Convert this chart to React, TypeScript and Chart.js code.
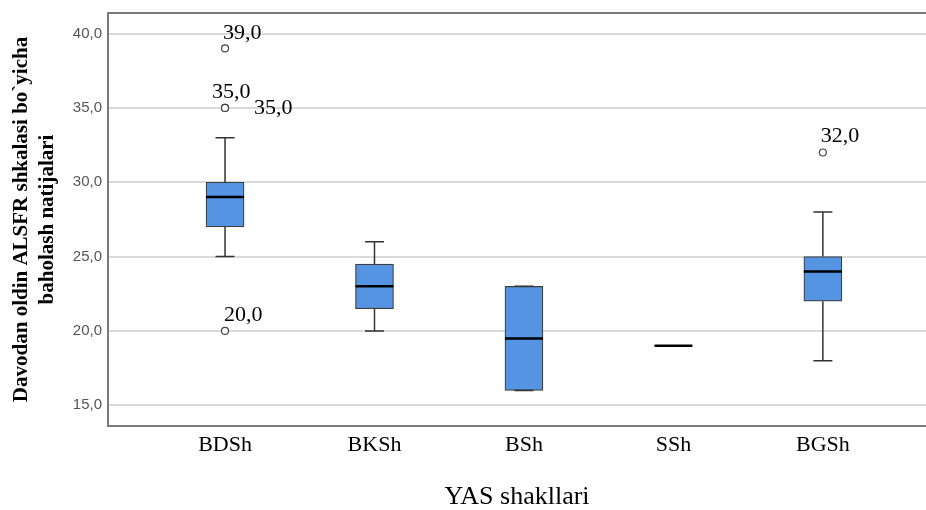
import React, { useEffect, useRef } from "react";
import { Chart, registerables } from "chart.js";

Chart.register(...registerables);

// ---- data ----
const categories = ["BDSh", "BKSh", "BSh", "SSh", "BGSh"];
const whiskerLow = [25, 20, 16, 19, 18];
const q1 = [27, 21.5, 16, 19, 22];
const median = [29, 23, 19.5, 19, 24];
const q3 = [30, 24.5, 23, 19, 25];
const whiskerHigh = [33, 26, 23, 19, 28];
const outlierCategory = [0, 0, 0, 0, 4];
const outlierValue = [39, 35, 35, 20, 32];
const yTickValues = [15, 20, 25, 30, 35, 40];
const yTitle = ["Davodan oldin ALSFR shkalasi bo`yicha", "baholash natijalari"];
const xTitle = "YAS shakllari";

// label placement (style, not data)
const outlierLabelOffsets = [
  [-2, -15],
  [-13, -16],
  [29, 0],
  [-1, -16],
  [-2, -16],
];

const fmt = (v: number) => Number(v).toFixed(1).replace(".", ",");

const BOX_W = 38;
const CAP_HALF = 9.5;

const boxPlugin = {
  id: "boxDetails",
  afterDatasetsDraw(chart: any) {
    const { ctx, chartArea } = chart;
    const x = chart.scales.x;
    const y = chart.scales.y;
    ctx.save();
    // top border
    ctx.strokeStyle = "#7a7a7a";
    ctx.lineWidth = 2;
    ctx.beginPath();
    ctx.moveTo(chartArea.left - 1, chartArea.top);
    ctx.lineTo(chartArea.right, chartArea.top);
    ctx.stroke();

    categories.forEach((_, i) => {
      const cx = x.getPixelForValue(i);
      const yl = y.getPixelForValue(whiskerLow[i]);
      const y1 = y.getPixelForValue(q1[i]);
      const ym = y.getPixelForValue(median[i]);
      const y3 = y.getPixelForValue(q3[i]);
      const yh = y.getPixelForValue(whiskerHigh[i]);
      ctx.strokeStyle = "#333";
      ctx.lineWidth = 1.5;
      if (whiskerHigh[i] !== whiskerLow[i]) {
        if (whiskerHigh[i] > q3[i]) {
          ctx.beginPath();
          ctx.moveTo(cx, y3);
          ctx.lineTo(cx, yh);
          ctx.stroke();
        }
        if (whiskerLow[i] < q1[i]) {
          ctx.beginPath();
          ctx.moveTo(cx, y1);
          ctx.lineTo(cx, yl);
          ctx.stroke();
        }
        ctx.beginPath();
        ctx.moveTo(cx - CAP_HALF, yh);
        ctx.lineTo(cx + CAP_HALF, yh);
        ctx.moveTo(cx - CAP_HALF, yl);
        ctx.lineTo(cx + CAP_HALF, yl);
        ctx.stroke();
      }
      ctx.strokeStyle = "#000";
      ctx.lineWidth = 2.5;
      ctx.beginPath();
      ctx.moveTo(cx - BOX_W / 2, ym);
      ctx.lineTo(cx + BOX_W / 2, ym);
      ctx.stroke();
    });

    ctx.fillStyle = "#000";
    ctx.font = "22px 'Liberation Serif', serif";
    ctx.textAlign = "left";
    ctx.textBaseline = "middle";
    outlierValue.forEach((v, i) => {
      const px = x.getPixelForValue(outlierCategory[i]);
      const py = y.getPixelForValue(v);
      const [dx, dy] = outlierLabelOffsets[i];
      ctx.fillText(fmt(v), px + dx, py + dy);
    });
    ctx.restore();
  },
};

export default function App() {
  const ref = useRef<HTMLCanvasElement | null>(null);
  useEffect(() => {
    document.body.style.margin = "0";
    if (!ref.current) return;
    const chart = new Chart(ref.current, {
      type: "bar",
      data: {
        datasets: [
          {
            type: "bar",
            data: categories.map((_, i) => ({ x: i, y: [q1[i], q3[i]] })) as any,
            backgroundColor: "#5494e2",
            borderColor: "#3f3f3f",
            borderWidth: 1.2,
            borderSkipped: false,
            barThickness: BOX_W,
          } as any,
          {
            type: "scatter",
            data: outlierValue.map((v, i) => ({ x: outlierCategory[i], y: v })),
            backgroundColor: "#ffffff",
            borderColor: "#444",
            borderWidth: 1.2,
            pointRadius: 3.5,
          } as any,
        ],
      },
      options: {
        responsive: false,
        animation: false,
        layout: { autoPadding: false, padding: { top: 13, left: 0, right: 0, bottom: 0 } },
        plugins: { legend: { display: false }, tooltip: { enabled: false } },
        scales: {
          x: {
            type: "linear",
            position: "bottom",
            offset: false,
            min: -0.783,
            max: 4.69,
            afterBuildTicks: (axis: any) => {
              axis.ticks = categories.map((_, i) => ({ value: i }));
            },
            afterFit: (axis: any) => {
              axis.height = 84;
              axis.paddingLeft = 0;
              axis.paddingRight = 0;
            },
            ticks: {
              callback: (v: any) => categories[Math.round(Number(v))],
              color: "#000",
              font: { family: "'Liberation Serif', serif", size: 22 },
              padding: 6,
              maxRotation: 0,
              autoSkip: false,
            },
            grid: { display: false, drawTicks: false },
            border: { color: "#7a7a7a", width: 2 },
            title: {
              display: true,
              text: xTitle,
              color: "#000",
              font: { family: "'Liberation Serif', serif", size: 26, lineHeight: 1.0 },
              padding: 0,
            },
          },
          y: {
            type: "linear",
            min: 13.61,
            max: 41.38,
            afterBuildTicks: (axis: any) => {
              axis.ticks = yTickValues.map((v) => ({ value: v }));
            },
            afterFit: (axis: any) => {
              axis.width = 108;
              axis.paddingTop = 0;
              axis.paddingBottom = 0;
            },
            ticks: {
              callback: (v: any) => fmt(Number(v)),
              color: "#555",
              font: { family: "'Liberation Sans', sans-serif", size: 15 },
              padding: 6,
            },
            grid: { color: "#dadada", lineWidth: 2, drawTicks: false },
            border: { color: "#7a7a7a", width: 2 },
            title: {
              display: true,
              text: yTitle,
              color: "#000",
              font: { family: "'Liberation Serif', serif", size: 21, weight: "bold", lineHeight: 1.24 },
              padding: { top: 9, bottom: 0 },
            },
          },
        },
      },
      plugins: [boxPlugin],
    } as any);
    return () => chart.destroy();
  }, []);
  return <canvas ref={ref} width={926} height={510} style={{ display: "block" }} />;
}
